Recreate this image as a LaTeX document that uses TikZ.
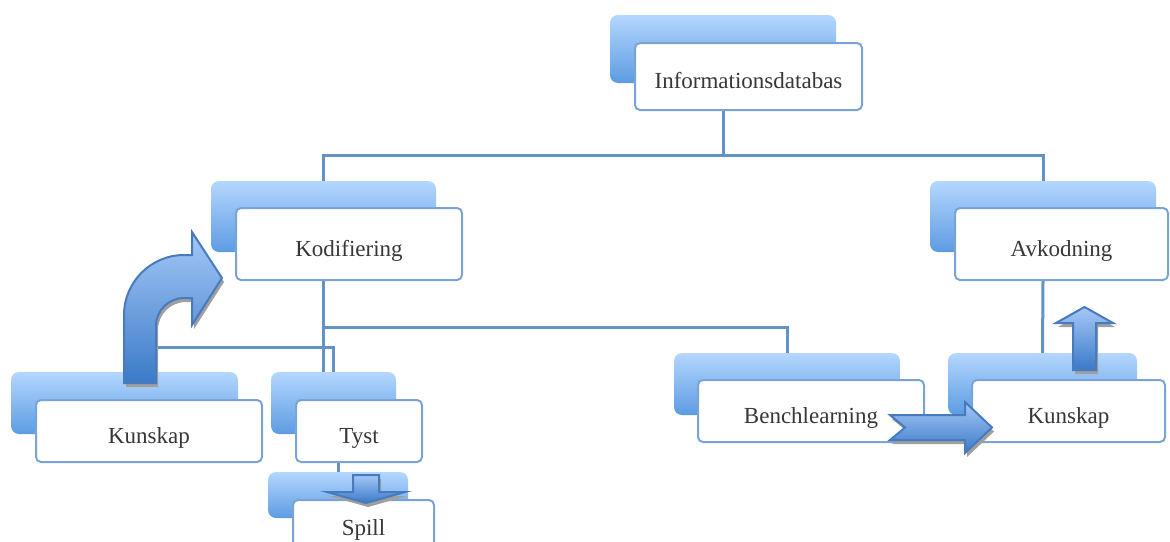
\documentclass[tikz,border=0pt]{standalone}
\usepackage{fontspec}
\setmainfont{Liberation Serif}
\usetikzlibrary{shadows}
\definecolor{tabTop}{RGB}{180,215,254}
\definecolor{tabBot}{RGB}{92,155,226}
\definecolor{cardLine}{RGB}{122,164,214}
\definecolor{linkLine}{RGB}{100,145,198}
\definecolor{arrTop}{RGB}{165,200,247}
\definecolor{arrBot}{RGB}{58,122,200}
\definecolor{arrLine}{RGB}{72,122,190}
\definecolor{txt}{RGB}{55,55,55}
\begin{document}
\begin{tikzpicture}[x=1pt,y=-1pt,
	tab/.style={rounded corners=8pt, top color=tabTop, bottom color=tabBot, inner sep=0pt},
	card/.style={draw=cardLine, line width=2pt, fill=white, rounded corners=5pt, inner sep=0pt,
		text=txt, font=\fontsize{23}{28}\selectfont, text height=24pt, text depth=0pt},
	link/.style={draw=linkLine, line width=3pt},
	blockarrow/.style={top color=arrTop, bottom color=arrBot, draw=arrLine, line width=2pt,
		drop shadow={shadow xshift=2pt, shadow yshift=-4pt, fill=gray!75, opacity=1}}]
		\useasboundingbox (0,0) rectangle (1170,541);
		\clip (0,0) rectangle (1170,541);
		% tabs
		\node[tab, minimum width=226pt, minimum height=68pt] (infoT) at (723,49) {};
		\node[tab, minimum width=225pt, minimum height=71pt] (kodT) at (323.5,216.5) {};
		\node[tab, minimum width=226pt, minimum height=71pt] (avkT) at (1043,216.5) {};
		\node[tab, minimum width=227pt, minimum height=62pt] (kunT) at (124.5,403) {};
		\node[tab, minimum width=125pt, minimum height=62pt] (tystT) at (333.5,403) {};
		\node[tab, minimum width=140pt, minimum height=46pt] (spillT) at (338,495) {};
		\node[tab, minimum width=226pt, minimum height=62pt] (benchT) at (787,384) {};
		\node[tab, minimum width=189pt, minimum height=62pt] (kunBT) at (1042.5,384) {};
		% cards
		\node[card, minimum width=227pt, minimum height=67pt] (info) at (748.5,76.5) {Informationsdatabas};
		\node[card, minimum width=226pt, minimum height=72pt] (kod) at (349,244) {Kodifiering};
		\node[card, minimum width=213pt, minimum height=72pt] (avk) at (1061.5,244) {Avkodning};
		\node[card, minimum width=226pt, minimum height=62pt] (kun) at (149,431) {Kunskap};
		\node[card, minimum width=126pt, minimum height=62pt] (tyst) at (359,431) {Tyst};
		\node[card, minimum width=141pt, minimum height=60pt, text height=10pt] (spill) at (363.5,530) {Spill};
		\node[card, minimum width=226pt, minimum height=62pt] (bench) at (811,411) {Benchlearning};
		\node[card, minimum width=193pt, minimum height=62pt] (kunB) at (1068.5,411) {Kunskap};
		% connectors
		\coordinate (jTop) at (723,155);
		\coordinate (jKod) at (323.5,327);
		\coordinate (jLeft) at (323.5,347);
		\draw[link] (info.south -| infoT.north) -- (jTop);
		\draw[link] (kodT.north) |- (jTop) -| (avkT.north);
		\draw[link] (kod.south -| kodT.north) -- (kodT.south |- tystT.north);
		\draw[link] (jKod) -| (benchT.north);
		\draw[link] (kunT.north) |- (jLeft) -| (tystT.north);
		\draw[link] (tyst.south -| spillT.north) -- (spillT.north);
		\draw[link] (avk.south -| avkT.north) -- (kunBT.north);
		% block arrows
		\draw[blockarrow] (124,383) -- (124,315) .. controls (124,282) and (151,255) .. (184,255)
			-- (192,255) -- (192,232) -- (222,278) -- (192,325) -- (192,298) -- (184,298)
			.. controls (168.5,298) and (156,310.5) .. (156,326) -- (156,383) -- cycle;
		\draw[blockarrow] (353,475) -- (379,475) -- (379,492) -- (405,492) -- (366,503)
			-- (327,492) -- (353,492) -- cycle;
		\draw[blockarrow] (1073,370) -- (1073,323) -- (1056,323) -- (1084.5,307) -- (1113,323)
			-- (1096,323) -- (1096,370) -- cycle;
		\draw[blockarrow] (890,415) -- (965,415) -- (965,402) -- (992,427.5) -- (965,453)
			-- (965,440) -- (890,440) -- (905,427.5) -- cycle;
	\end{tikzpicture}
\end{document}
